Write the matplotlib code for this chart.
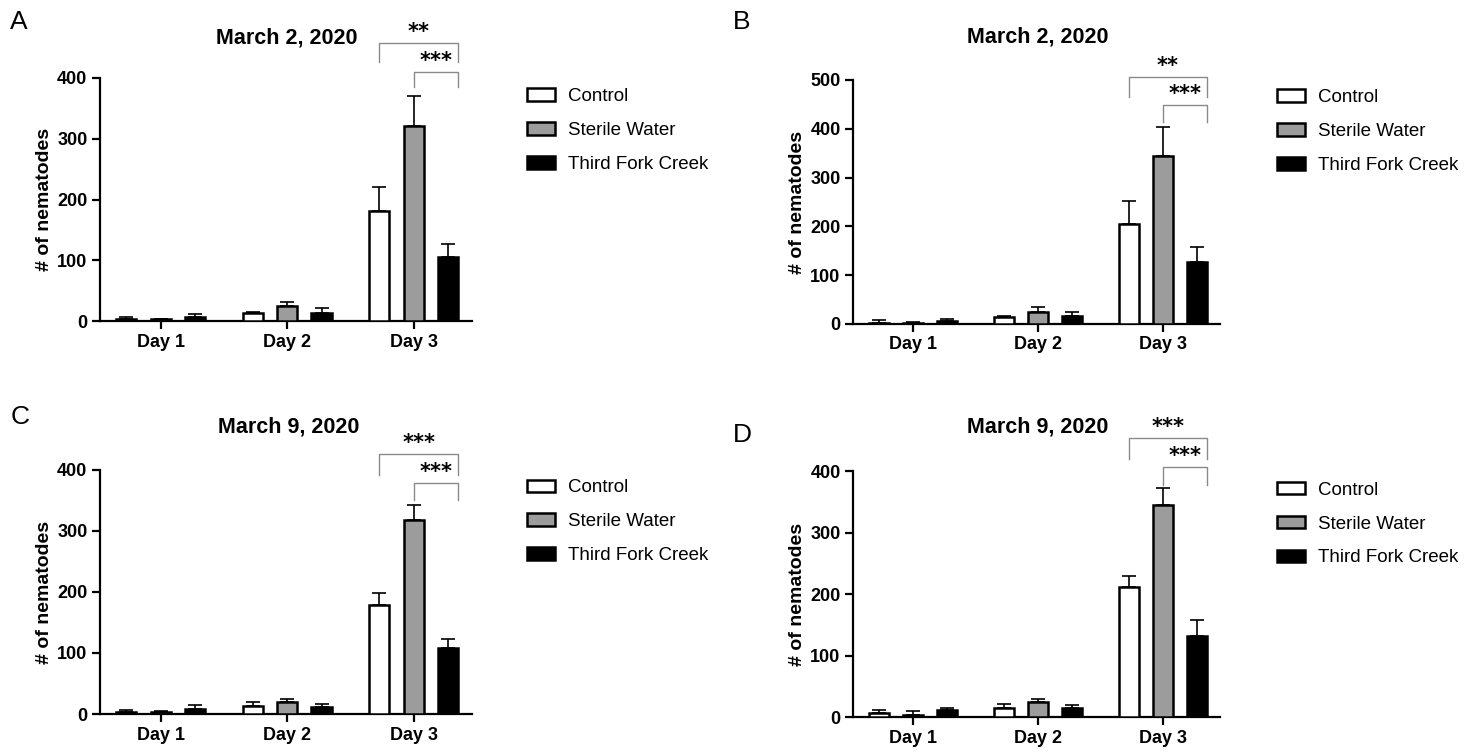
import numpy as np
import matplotlib
matplotlib.use("Agg")
import matplotlib.pyplot as plt

plt.rcParams["font.family"] = ["Liberation Sans", "DejaVu Sans"]

days = ["Day 1", "Day 2", "Day 3"]
groups = ["Control", "Sterile Water", "Third Fork Creek"]
colors = ["white", "#9c9c9c", "black"]

# A - March 2, 2020
a_ctrl = [3, 13, 181]
a_ctrl_err = [3, 2, 39]
a_sw = [3, 24, 321]
a_sw_err = [1, 8, 50]
a_tfc = [7, 14, 105]
a_tfc_err = [4, 7, 21]

# B - March 2, 2020
b_ctrl = [3, 14, 205]
b_ctrl_err = [5, 2, 47]
b_sw = [2, 25, 345]
b_sw_err = [2, 10, 59]
b_tfc = [6, 16, 128]
b_tfc_err = [4, 8, 29]

# C - March 9, 2020
c_ctrl = [4, 13, 178]
c_ctrl_err = [2, 7, 21]
c_sw = [3, 20, 318]
c_sw_err = [2, 4, 24]
c_tfc = [9, 12, 108]
c_tfc_err = [5, 5, 15]

# D - March 9, 2020
d_ctrl = [6, 15, 211]
d_ctrl_err = [6, 6, 19]
d_sw = [4, 24, 344]
d_sw_err = [5, 6, 29]
d_tfc = [11, 15, 132]
d_tfc_err = [4, 5, 26]

titles = ["March 2, 2020", "March 2, 2020", "March 9, 2020", "March 9, 2020"]
letters = ["A", "B", "C", "D"]
ymax = [400, 500, 400, 400]
sig_labels = [["**", "***"], ["**", "***"], ["***", "***"], ["***", "***"]]

# layout (figure fractions / data units for the brackets)
ax_rects = [
    [0.0674, 0.5748, 0.2508, 0.3219],
    [0.5752, 0.5709, 0.2475, 0.3232],
    [0.0674, 0.0543, 0.2508, 0.3232],
    [0.5752, 0.0503, 0.2475, 0.3258],
]
title_xy = [(0.1935, 0.950), (0.700, 0.951), (0.195, 0.434), (0.700, 0.434)]
letter_xy = [(0.007, 0.971), (0.494, 0.971), (0.007, 0.448), (0.494, 0.424)]
legend_xy = [(0.3554, 0.883), (0.861, 0.882), (0.3554, 0.365), (0.861, 0.362)]
brackets = [
    [(458, 426), (410, 385)],
    [(506, 465), (449, 414)],
    [(426, 392), (379, 351)],
    [(454, 420), (407, 377)],
]

panels = [
    ([a_ctrl, a_sw, a_tfc], [a_ctrl_err, a_sw_err, a_tfc_err]),
    ([b_ctrl, b_sw, b_tfc], [b_ctrl_err, b_sw_err, b_tfc_err]),
    ([c_ctrl, c_sw, c_tfc], [c_ctrl_err, c_sw_err, c_tfc_err]),
    ([d_ctrl, d_sw, d_tfc], [d_ctrl_err, d_sw_err, d_tfc_err]),
]

fig = plt.figure(figsize=(14.83, 7.55), dpi=100)
x = np.arange(len(days))
off = 0.272
w = 0.16

for i, (vals, errs) in enumerate(panels):
    ax = fig.add_axes(ax_rects[i])
    for k in range(3):
        pos = x + (k - 1) * off
        ax.bar(pos, vals[k], width=w, color=colors[k], edgecolor="black",
               linewidth=1.8, label=groups[k], zorder=3)
        ax.errorbar(pos, vals[k], yerr=[np.zeros(3), errs[k]], fmt="none",
                    ecolor="black", elinewidth=1.2, capsize=5, capthick=1.2,
                    zorder=2)
    ax.set_xlim(-0.48, 2.46)
    ax.set_ylim(0, ymax[i])
    ax.set_yticks(np.arange(0, ymax[i] + 1, 100))
    ax.set_xticks(x)
    ax.set_xticklabels(days)
    for s in ["top", "right"]:
        ax.spines[s].set_visible(False)
    for s in ["left", "bottom"]:
        ax.spines[s].set_linewidth(1.6)
    ax.tick_params(width=1.6, length=6, labelsize=13, pad=3)
    for lab in ax.get_xticklabels() + ax.get_yticklabels():
        lab.set_fontweight("bold")
    ax.set_ylabel("# of nematodes", fontsize=14, fontweight="bold", labelpad=3)

    # significance brackets on Day 3
    xl1 = 2 - off
    xl2 = 2
    xr = 2 + off + w / 2
    for j, (top, leg) in enumerate(brackets[i]):
        xl = xl1 if j == 0 else xl2
        ax.plot([xl, xl, xr, xr], [leg, top, top, leg], color="#8a8a8a",
                lw=1.0, clip_on=False, zorder=4)
        ax.text((xl + xr) / 2, top + ymax[i] * 0.004, sig_labels[i][j],
                ha="center", va="bottom", fontsize=15, fontweight="bold",
                family="DejaVu Sans", clip_on=False)

    fig.text(title_xy[i][0], title_xy[i][1], titles[i], ha="center",
             va="center", fontsize=15.5, fontweight="bold")
    fig.text(letter_xy[i][0], letter_xy[i][1], letters[i], ha="left",
             va="center", fontsize=19)

    ax.legend(loc="upper left", bbox_to_anchor=legend_xy[i],
              bbox_transform=fig.transFigure, frameon=False, fontsize=13.5,
              handlelength=1.5, handleheight=0.65, handletextpad=0.7,
              labelspacing=0.9, borderpad=0, borderaxespad=0)

fig.savefig("out.png", dpi=100)
